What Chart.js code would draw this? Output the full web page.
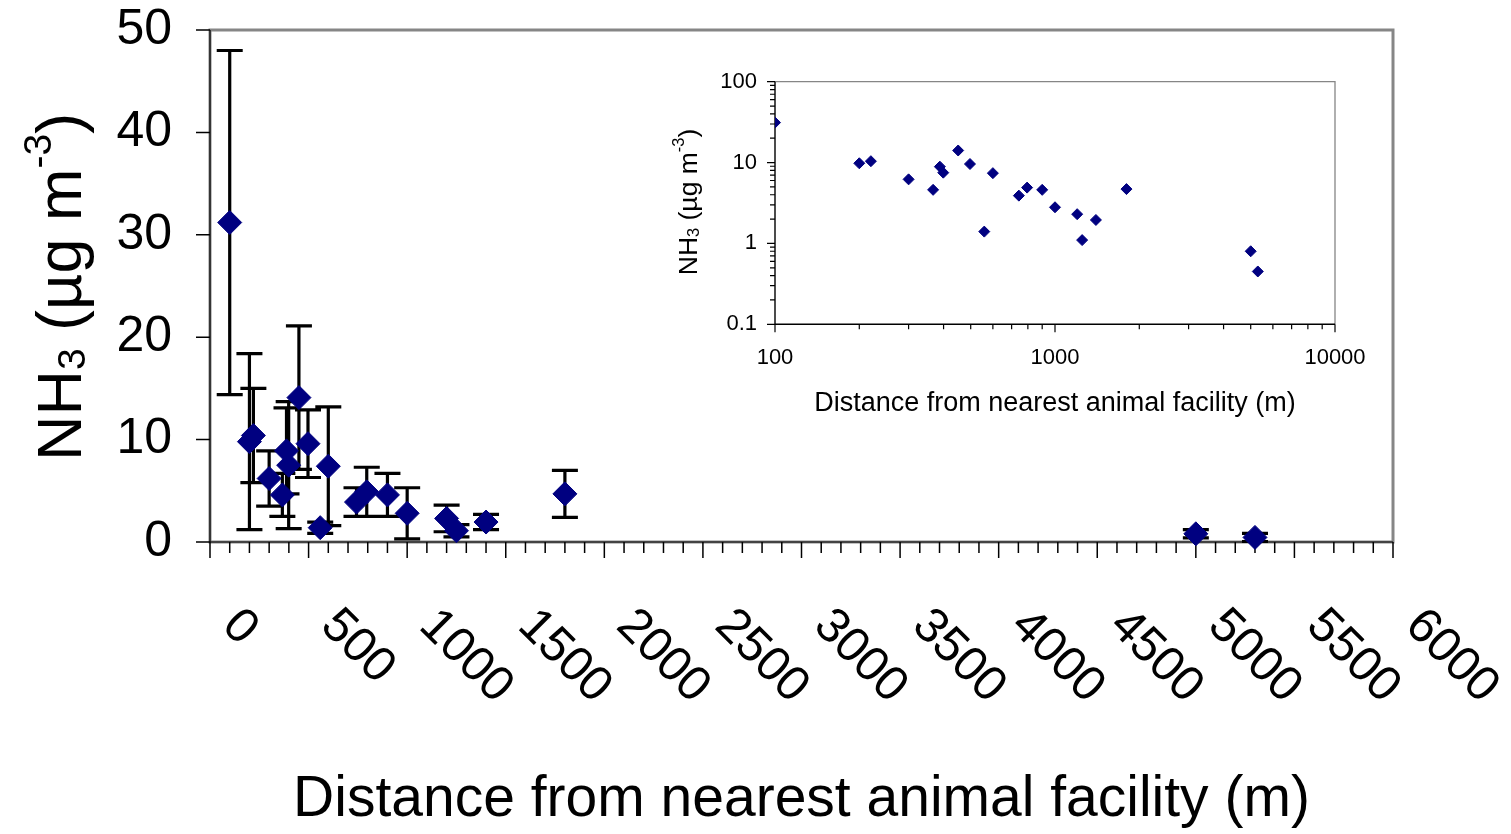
<!DOCTYPE html>
<html>
<head>
<meta charset="utf-8">
<title>NH3 vs distance from animal facility</title>
<script src="https://cdn.jsdelivr.net/npm/chart.js@4.4.1/dist/chart.umd.min.js"></script>
<style>
  html, body { margin: 0; padding: 0; background: #ffffff; }
  #wrap { position: relative; width: 1511px; height: 834px; }
  #main-chart { position: absolute; left: 0; top: 0; }
  #inset-chart { position: absolute; left: 660px; top: 55px; }
</style>
</head>
<body>
<div id="wrap">
  <canvas id="main-chart" width="1511" height="834"></canvas>
  <canvas id="inset-chart" width="725" height="370"></canvas>
</div>
<script>
// sampling sites: distance to nearest animal facility (m), mean NH3 and std dev (ug m-3)
const distances = [100, 200, 220, 300, 367, 388, 399, 451, 497, 559, 600, 743, 795, 900, 1000, 1200, 1250, 1400, 1800, 5000, 5300];
const nh3Means = [31.2, 9.8, 10.4, 6.2, 4.6, 8.9, 7.5, 14.1, 9.6, 1.4, 7.4, 3.9, 4.9, 4.6, 2.8, 2.3, 1.1, 1.95, 4.7, 0.8, 0.45];
const nh3StdDev = [16.8, 8.6, 4.6, 2.7, 2.1, 4.2, 6.2, 7.0, 3.3, 0.55, 5.8, 1.4, 2.4, 2.1, 2.5, 1.3, 0.6, 0.75, 2.3, 0.4, 0.4];

// axis ticks
const mainXTicks = [0, 500, 1000, 1500, 2000, 2500, 3000, 3500, 4000, 4500, 5000, 5500, 6000];
const mainXMinorStep = 100;
const mainYTicks = [0, 10, 20, 30, 40, 50];
const insetXTicks = [100, 1000, 10000];
const insetYTicks = [0.1, 1, 10, 100];

const FONT = '"Liberation Sans", Arial, Helvetica, sans-serif';
const NAVY = '#000080';
const FRAME_GREY = '#868686';

Chart.defaults.font.family = FONT;
Chart.defaults.color = '#000000';

const points = distances.map((d, i) => ({ x: d, y: nh3Means[i] }));

// log-axis ticks: every 1..9 multiple inside each decade, decades are major
function decadeTicks(decades) {
  const ticks = [];
  decades.forEach((d, i) => {
    const last = i === decades.length - 1;
    for (let m = 1; m <= (last ? 1 : 9); m++) {
      ticks.push({ value: d * m, major: m === 1 });
    }
  });
  return ticks;
}

// "NH3 (ug m-3)" with subscript / superscript pieces
function unitParts() {
  return [
    { text: 'NH', scale: 1, shift: 0 },
    { text: '3', scale: 0.62, shift: 0.06 },
    { text: ' (\u00b5g m', scale: 1, shift: 0 },
    { text: '-3', scale: 0.62, shift: -0.48 },
    { text: ')', scale: 1, shift: 0 }
  ];
}

function drawRichText(ctx, parts, size, cx, cy, rotation) {
  ctx.save();
  ctx.translate(cx, cy);
  ctx.rotate(rotation);
  ctx.fillStyle = '#000';
  ctx.textAlign = 'left';
  ctx.textBaseline = 'alphabetic';
  let total = 0;
  parts.forEach((p) => {
    ctx.font = (size * p.scale) + 'px ' + FONT;
    p.w = ctx.measureText(p.text).width;
    total += p.w;
  });
  let x = -total / 2;
  parts.forEach((p) => {
    ctx.font = (size * p.scale) + 'px ' + FONT;
    ctx.fillText(p.text, x, p.shift * size);
    x += p.w;
  });
  ctx.restore();
}

function drawTickMarks(ctx, scale, ticks, majorLen, minorLen, width) {
  const area = scale.chart.chartArea;
  ctx.save();
  ctx.strokeStyle = '#000';
  ctx.lineWidth = width;
  ctx.beginPath();
  ticks.forEach((t) => {
    const len = t.major ? majorLen : minorLen;
    const p = scale.getPixelForValue(t.value);
    if (scale.isHorizontal()) {
      ctx.moveTo(p, area.bottom);
      ctx.lineTo(p, area.bottom + len);
    } else {
      ctx.moveTo(area.left, p);
      ctx.lineTo(area.left - len, p);
    }
  });
  ctx.stroke();
  ctx.restore();
}

const mainDecor = {
  id: 'mainDecor',
  beforeDatasetsDraw(chart) {
    const { ctx, chartArea: a, scales: { x, y } } = chart;

    // plot area frame
    ctx.save();
    ctx.strokeStyle = FRAME_GREY;
    ctx.lineWidth = 3;
    ctx.strokeRect(a.left, a.top, a.right - a.left, a.bottom - a.top);
    ctx.strokeStyle = '#000';
    ctx.lineWidth = 1.2;
    ctx.beginPath();
    ctx.moveTo(a.left, a.top);
    ctx.lineTo(a.left, a.bottom);
    ctx.lineTo(a.right, a.bottom);
    ctx.stroke();
    ctx.restore();

    // y tick marks
    drawTickMarks(ctx, y, mainYTicks.map((v) => ({ value: v, major: true })), 14, 14, 1.5);

    // x tick marks, majors at the labelled ticks
    const xt = [];
    for (let v = x.min; v <= x.max; v += mainXMinorStep) {
      xt.push({ value: v, major: mainXTicks.includes(v) });
    }
    drawTickMarks(ctx, x, xt, 16, 11, 1.5);

    // slanted x labels
    ctx.save();
    ctx.font = '49px ' + FONT;
    ctx.fillStyle = '#000';
    ctx.textAlign = 'left';
    ctx.textBaseline = 'middle';
    mainXTicks.forEach((v) => {
      ctx.save();
      ctx.translate(x.getPixelForValue(v) + 20, a.bottom + 76);
      ctx.rotate(Math.PI / 4);
      ctx.fillText(String(v), 0, 0);
      ctx.restore();
    });
    ctx.restore();

    // error bars (+/- one std dev)
    ctx.save();
    ctx.strokeStyle = '#000';
    ctx.lineWidth = 3.2;
    ctx.beginPath();
    distances.forEach((d, i) => {
      const px = x.getPixelForValue(d);
      const top = y.getPixelForValue(nh3Means[i] + nh3StdDev[i]);
      const bot = y.getPixelForValue(nh3Means[i] - nh3StdDev[i]);
      ctx.moveTo(px, top);
      ctx.lineTo(px, bot);
      ctx.moveTo(px - 13, top);
      ctx.lineTo(px + 13, top);
      ctx.moveTo(px - 13, bot);
      ctx.lineTo(px + 13, bot);
    });
    ctx.stroke();
    ctx.restore();
  },
  afterDraw(chart) {
    const { ctx, chartArea: a } = chart;
    ctx.save();
    ctx.font = '57px ' + FONT;
    ctx.fillStyle = '#000';
    ctx.textAlign = 'center';
    ctx.textBaseline = 'alphabetic';
    ctx.fillText('Distance from nearest animal facility (m)', (a.left + a.right) / 2, 816);
    ctx.restore();
    drawRichText(ctx, unitParts(), 63, 81, 287, -Math.PI / 2);
  }
};

new Chart(document.getElementById('main-chart'), {
  type: 'scatter',
  data: {
    datasets: [{
      label: 'NH3',
      data: points,
      pointStyle: 'rectRot',
      pointRadius: 12,
      pointHoverRadius: 12,
      backgroundColor: NAVY,
      borderColor: NAVY,
      borderWidth: 1,
      clip: false
    }]
  },
  options: {
    responsive: false,
    animation: false,
    devicePixelRatio: 1,
    layout: { padding: { left: 0, top: 30, right: 118, bottom: 0 } },
    plugins: { legend: { display: false }, tooltip: { enabled: false } },
    scales: {
      x: {
        type: 'linear',
        min: 0,
        max: 6000,
        afterBuildTicks: (s) => { s.ticks = mainXTicks.map((v) => ({ value: v })); },
        afterFit: (s) => { s.height = 292; },
        grid: { display: false },
        border: { display: false },
        ticks: { display: false }
      },
      y: {
        min: 0,
        max: 50,
        afterBuildTicks: (s) => { s.ticks = mainYTicks.map((v) => ({ value: v })); },
        afterFit: (s) => { s.width = 210; },
        // tick marks are drawn by mainDecor; the long transparent tick only spaces the labels
        grid: { drawOnChartArea: false, tickLength: 38, tickColor: 'rgba(0,0,0,0)' },
        border: { display: false },
        ticks: { font: { size: 50, lineHeight: 1 }, padding: 0, color: '#000' }
      }
    }
  },
  plugins: [mainDecor]
});

const insetDecor = {
  id: 'insetDecor',
  beforeDatasetsDraw(chart) {
    const { ctx, chartArea: a, scales: { x, y } } = chart;
    ctx.save();
    ctx.strokeStyle = FRAME_GREY;
    ctx.lineWidth = 1.3;
    ctx.beginPath();
    ctx.moveTo(a.left, a.top);
    ctx.lineTo(a.right, a.top);
    ctx.lineTo(a.right, a.bottom);
    ctx.stroke();
    ctx.strokeStyle = '#000';
    ctx.lineWidth = 1.4;
    ctx.beginPath();
    ctx.moveTo(a.left, a.top);
    ctx.lineTo(a.left, a.bottom);
    ctx.lineTo(a.right, a.bottom);
    ctx.stroke();
    ctx.restore();
    drawTickMarks(ctx, x, x.ticks, 8, 5, 1.2);
    drawTickMarks(ctx, y, y.ticks, 8, 5, 1.2);
  },
  afterDraw(chart) {
    const a = chart.chartArea;
    drawRichText(chart.ctx, unitParts(), 26.5, 37, (a.top + a.bottom) / 2 - 1, -Math.PI / 2);
  }
};

const tickLabel = (value, i, ticks) => (ticks[i].major ? String(value) : '');

new Chart(document.getElementById('inset-chart'), {
  type: 'scatter',
  data: {
    datasets: [{
      label: 'NH3 (log)',
      data: points,
      pointStyle: 'rectRot',
      pointRadius: 5.5,
      pointHoverRadius: 5.5,
      backgroundColor: NAVY,
      borderColor: NAVY,
      borderWidth: 1
    }]
  },
  options: {
    responsive: false,
    animation: false,
    devicePixelRatio: 1,
    layout: { padding: { left: 0, top: 26.7, right: 50, bottom: 0 } },
    plugins: { legend: { display: false }, tooltip: { enabled: false } },
    scales: {
      x: {
        type: 'logarithmic',
        min: 100,
        max: 10000,
        afterBuildTicks: (s) => { s.ticks = decadeTicks(insetXTicks); },
        afterFit: (s) => { s.height = 100.7; },
        grid: { drawOnChartArea: false, tickLength: 8, tickColor: 'rgba(0,0,0,0)' },
        border: { display: false },
        ticks: { font: { size: 22 }, padding: 12, maxRotation: 0, autoSkip: false, callback: tickLabel },
        title: {
          display: true,
          text: 'Distance from nearest animal facility (m)',
          font: { size: 27 },
          padding: { top: 0, bottom: 5 }
        }
      },
      y: {
        type: 'logarithmic',
        min: 0.1,
        max: 100,
        afterBuildTicks: (s) => { s.ticks = decadeTicks(insetYTicks); },
        afterFit: (s) => { s.width = 115; },
        grid: { drawOnChartArea: false, tickLength: 8, tickColor: 'rgba(0,0,0,0)' },
        border: { display: false },
        ticks: { font: { size: 22 }, padding: 10, autoSkip: false, callback: tickLabel }
      }
    }
  },
  plugins: [insetDecor]
});
</script>
</body>
</html>
